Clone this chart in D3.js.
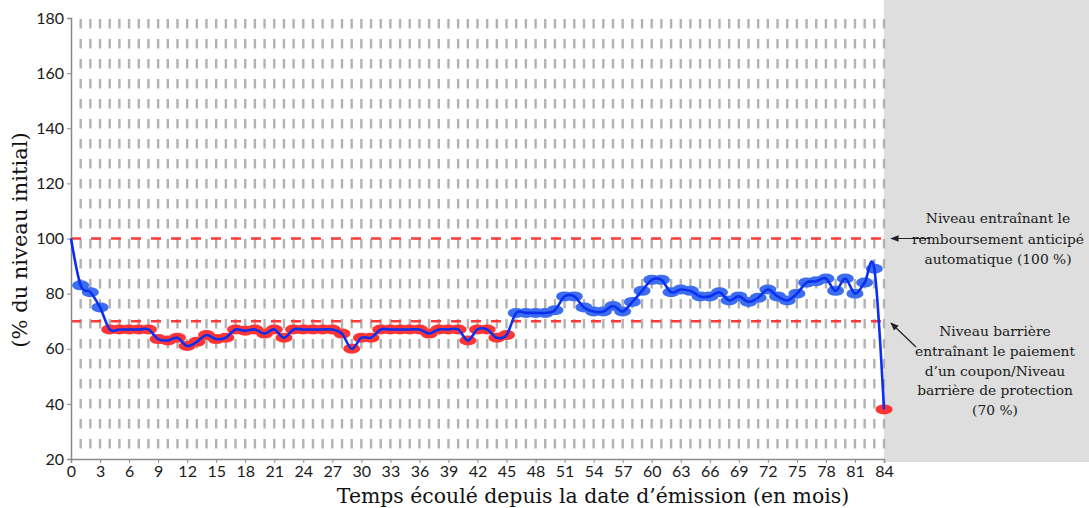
<!DOCTYPE html>
<html><head><meta charset="utf-8">
<script src="https://cdn.jsdelivr.net/npm/d3@7"></script>
<style>body{margin:0;background:#fff}svg{display:block}</style>
</head><body><svg id="c" width="1089" height="508"></svg>
<script>
const months = d3.range(0, 85);
const values = [100,83,80.5,75, 67,67,67,67,67, 63.5,63,64,61,62.5,65,63.5,64, 67,66.5,67,65.5,67, 64,67,67,67,67,67, 65.5,60,64,64, 67,67,67,67,67, 65.5,67,67,67, 63,67,67,64,65, 73,73,73,73,74, 79,79,75,73.5,73.5,75.5,73.5,77,81,85,85,80.5,81.5,81,79,79,80.5,77.5,79,77,78.5,81.5,79,77.5,80,84,84.5,85.5,81,85.5,80,84,89,38];
const xTicks = d3.range(0, 85, 3);
const yTicks = [20,40,60,80,100,120,140,160,180];
const levels = [100, 70];
const note1 = ["Niveau entraînant le", "remboursement anticipé", "automatique (100 %)"];
const note2 = ["Niveau barrière", "entraînant le paiement", "d\u2019un coupon/Niveau", "barrière de protection", "(70 %)"];
const xTitle = "Temps écoulé depuis la date d\u2019émission (en mois)";
const yTitle = "(% du niveau initial)";

const svg = d3.select("#c");
const x = d3.scaleLinear().domain([0, 84]).range([71, 884]);
const y = d3.scaleLinear().domain([20, 180]).range([459, 18]);

// grey zone after maturity
svg.append("rect").attr("x", x(84)).attr("y", 0).attr("width", 1089 - x(84)).attr("height", 462).attr("fill", "#dedede");

// vertical dashed grid
svg.append("g").selectAll("line").data(months.slice(1)).join("line")
  .attr("x1", d => x(d)).attr("x2", d => x(d))
  .attr("y1", y(180) + 1).attr("y2", y(20))
  .attr("stroke", "#b2b2b2").attr("stroke-width", 2.4).attr("stroke-dasharray", "9.5,10.5");

// threshold lines
svg.append("g").selectAll("line").data(levels).join("line")
  .attr("x1", x(0)).attr("x2", x(84))
  .attr("y1", d => y(d)).attr("y2", d => y(d))
  .attr("stroke", "#ff3b3b").attr("stroke-width", 2.4).attr("stroke-dasharray", "10,10");

// axes
const ya = svg.append("g").attr("transform", `translate(${x(0)},0)`)
  .call(d3.axisLeft(y).tickValues(yTicks).tickSize(4).tickPadding(3));
const xa = svg.append("g").attr("transform", `translate(0,${y(20)})`)
  .call(d3.axisBottom(x).tickValues(xTicks).tickSize(4).tickPadding(3));
[ya, xa].forEach(g => {
  g.select(".domain").attr("stroke", "#8a8a8a").attr("stroke-width", 1.5);
  g.selectAll(".tick line").attr("stroke", "#8a8a8a");
  g.selectAll("text").attr("font-family", "Lato, 'Open Sans', sans-serif").attr("font-size", 16).attr("fill", "#1a1a1a");
});

// markers
const pts = months.map((m, i) => ({m, v: values[i]})).filter(d => d.m > 0);
svg.append("g").selectAll("ellipse").data(pts).join("ellipse")
  .attr("cx", d => x(d.m)).attr("cy", d => y(d.v))
  .attr("rx", 8.5).attr("ry", 5)
  .attr("fill", d => d.v < 70 ? "#ff3535" : "#3d6ef2");

// line
const line = d3.line().x((d, i) => x(months[i])).y(d => y(d)).curve(d3.curveCardinal.tension(0));
svg.append("path").datum(values).attr("d", line)
  .attr("fill", "none").attr("stroke", "#0a2ff0").attr("stroke-width", 2.6);

// axis titles
svg.append("text").attr("x", 593).attr("y", 503).attr("text-anchor", "middle")
  .attr("font-family", "'DejaVu Serif', serif").attr("font-size", 20.4).attr("fill", "#111").text(xTitle);
svg.append("text").attr("transform", "translate(27,240) rotate(-90)").attr("text-anchor", "middle")
  .attr("font-family", "'DejaVu Serif', serif").attr("font-size", 21).attr("fill", "#111").text(yTitle);

// annotations
const ann = svg.append("g").attr("font-family", "'DejaVu Serif', serif").attr("font-size", 13.8).attr("fill", "#1a1a1a").attr("text-anchor", "middle");
note1.forEach((t, i) => ann.append("text").attr("x", 998).attr("y", 223 + i * 20.5).text(t));
note2.forEach((t, i) => ann.append("text").attr("x", 995).attr("y", 336 + i * 19.8).text(t));

svg.append("defs").append("marker").attr("id", "ah").attr("viewBox", "0 0 10 10").attr("refX", 9).attr("refY", 5)
  .attr("markerWidth", 7).attr("markerHeight", 7).attr("orient", "auto")
  .append("path").attr("d", "M0,1 L10,5 L0,9 z").attr("fill", "#222");
svg.append("line").attr("x1", 929).attr("y1", y(100)).attr("x2", 891).attr("y2", y(100))
  .attr("stroke", "#222").attr("stroke-width", 1.2).attr("marker-end", "url(#ah)");
svg.append("line").attr("x1", 916).attr("y1", 347).attr("x2", 891).attr("y2", 323)
  .attr("stroke", "#222").attr("stroke-width", 1.2).attr("marker-end", "url(#ah)");
</script></body></html>
